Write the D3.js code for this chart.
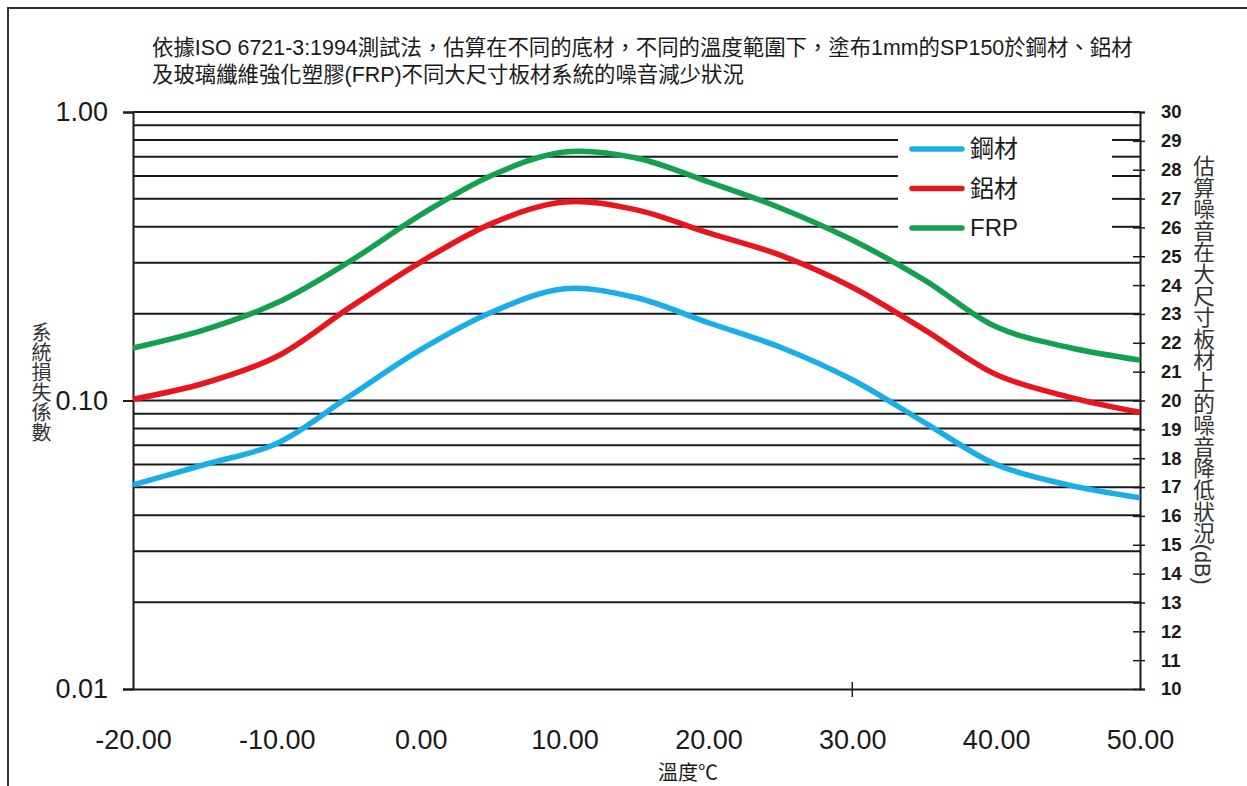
<!DOCTYPE html>
<html>
<head>
<meta charset="utf-8">
<script src="https://cdn.jsdelivr.net/npm/d3@7"></script>
<style>
  body { margin: 0; background: #fff; }
  svg { display: block; font-family: "Liberation Sans", Arial, "Noto Sans CJK TC", sans-serif; }
</style>
</head>
<body>
<svg id="chart" width="1247" height="786"></svg>
<script>
// temperature (°C) along the bottom
const temps = [-20, -15, -10, -5, 0, 5, 10, 15, 20, 25, 30, 35, 40, 45, 50]
// loss factor
const steel = [0.051, 0.060, 0.071, 0.103, 0.150, 0.203, 0.244, 0.227, 0.186, 0.153, 0.118, 0.084, 0.060, 0.051, 0.046]
const aluminum = [0.101, 0.115, 0.142, 0.209, 0.302, 0.412, 0.488, 0.458, 0.381, 0.319, 0.247, 0.176, 0.123, 0.103, 0.091]
const frp = [0.152, 0.176, 0.218, 0.302, 0.440, 0.605, 0.727, 0.693, 0.572, 0.465, 0.360, 0.262, 0.180, 0.153, 0.138]

const seriesNames = ['鋼材', '鋁材', 'FRP']
const xTicks = [-20, -10, 0, 10, 20, 30, 40, 50]
const leftTicks = [0.01, 0.1, 1]
const rightTicks = d3.range(10, 31)

const titleLines = [
  '依據ISO 6721-3:1994測試法，估算在不同的底材，不同的溫度範圍下，塗布1mm的SP150於鋼材、鋁材',
  '及玻璃纖維強化塑膠(FRP)不同大尺寸板材系統的噪音減少狀況'
]
const xTitle = '溫度℃'
const leftTitle = '系統損失係數'
const rightTitle = '估算噪音在大尺寸板材上的噪音降低狀況(dB)'

const colors = ['#1aaee6', '#e8161c', '#14a04c']
const ink = '#1a1a1a'
const numFont = '"Liberation Sans", Arial, sans-serif'

const svg = d3.select('#chart')
const plot = { left: 133, right: 1140, top: 112, bottom: 689 }
const legendGap = { from: 898, to: 1112 }

const xScale = d3.scaleLinear().domain([-20, 50]).range([plot.left, plot.right])
const yScale = d3.scaleLog().domain([0.01, 1]).range([plot.bottom, plot.top])
const dbScale = d3.scaleLinear().domain([10, 30]).range([plot.bottom, plot.top])

// plain hyphen minus like the original, not d3's unicode minus
const fixed2 = d => d.toFixed(2)

// outer frame (cropped on the right and bottom in the original)
svg.append('rect')
  .attr('x', 8).attr('y', 8)
  .attr('width', 1400).attr('height', 1000)
  .attr('fill', 'none').attr('stroke', '#333').attr('stroke-width', 2)

// title
svg.append('g').selectAll('text')
  .data(titleLines)
  .join('text')
  .attr('x', 152)
  .attr('y', (d, i) => 55 + i * 27)
  .attr('font-size', 21.4)
  .attr('fill', ink)
  .text(d => d)

// horizontal grid, broken where the legend sits
const gridValues = yScale.ticks().filter(v => v > 0.01)
const grid = svg.append('g').attr('stroke', ink).attr('stroke-width', 2)
gridValues.forEach(v => {
  const y = yScale(v)
  const underLegend = v >= 0.35 && v <= 0.85
  const segs = underLegend
    ? [[plot.left, legendGap.from], [legendGap.to, plot.right]]
    : [[plot.left, plot.right]]
  segs.forEach(s => {
    grid.append('line')
      .attr('x1', s[0]).attr('x2', s[1])
      .attr('y1', y).attr('y2', y)
  })
})

// left axis
const leftAxis = svg.append('g')
  .attr('transform', `translate(${plot.left},0)`)
  .call(d3.axisLeft(yScale).tickValues(leftTicks).tickFormat(fixed2).tickSize(10).tickPadding(15))
leftAxis.select('.domain').attr('stroke', ink).attr('stroke-width', 2)
leftAxis.selectAll('.tick line').attr('stroke', ink).attr('stroke-width', 2)
leftAxis.selectAll('.tick text')
  .attr('font-size', 27).attr('fill', ink)
  .attr('font-family', numFont)

// bottom axis
const bottomAxis = svg.append('g')
  .attr('transform', `translate(0,${plot.bottom})`)
  .call(d3.axisBottom(xScale).tickValues(xTicks).tickFormat(fixed2).tickSize(0).tickPadding(41))
bottomAxis.select('.domain').attr('stroke', ink).attr('stroke-width', 2)
bottomAxis.selectAll('.tick text')
  .attr('font-size', 27).attr('fill', ink)
  .attr('font-family', numFont)
// the original has a single stray tick on the x axis, at 30
svg.append('line')
  .attr('x1', xScale(30)).attr('x2', xScale(30))
  .attr('y1', plot.bottom - 7).attr('y2', plot.bottom + 8)
  .attr('stroke', ink).attr('stroke-width', 1.5)

// right axis in dB, ticks cross the line
const rightAxis = svg.append('g')
  .attr('transform', `translate(${plot.right},0)`)
  .call(d3.axisRight(dbScale).tickValues(rightTicks).tickFormat(d3.format('d')).tickSize(5).tickPadding(16))
rightAxis.select('.domain').attr('stroke', ink).attr('stroke-width', 2)
rightAxis.selectAll('.tick line').attr('x1', -7).attr('stroke', ink).attr('stroke-width', 1.5)
rightAxis.selectAll('.tick text')
  .attr('font-size', 18.5).attr('font-weight', 'bold').attr('fill', ink)
  .attr('font-family', numFont)

// axis titles
svg.append('text')
  .attr('x', 688).attr('y', 780)
  .attr('text-anchor', 'middle')
  .attr('font-size', 20).attr('fill', ink)
  .text(xTitle)

svg.append('text')
  .attr('x', 40).attr('y', 322)
  .attr('font-size', 20).attr('fill', '#333')
  .style('writing-mode', 'vertical-rl')
  .text(leftTitle)

svg.append('text')
  .attr('x', 1202).attr('y', 155)
  .attr('font-size', 21.6).attr('fill', '#333')
  .style('writing-mode', 'vertical-rl')
  .text(rightTitle)

// series lines
const line = d3.line()
  .x((d, i) => xScale(temps[i]))
  .y(d => yScale(d))
  .curve(d3.curveCatmullRom.alpha(0.5))

svg.append('g').selectAll('path')
  .data([steel, aluminum, frp])
  .join('path')
  .attr('d', line)
  .attr('fill', 'none')
  .attr('stroke', (d, i) => colors[i])
  .attr('stroke-width', 5.5)
  .attr('stroke-linecap', 'butt')

// legend
const legend = svg.append('g').attr('transform', 'translate(912,149)')
const item = legend.selectAll('g')
  .data(seriesNames)
  .join('g')
  .attr('transform', (d, i) => `translate(0,${i * 39.5})`)
item.append('line')
  .attr('x1', 0).attr('x2', 50)
  .attr('stroke', (d, i) => colors[i])
  .attr('stroke-width', 5.5)
  .attr('stroke-linecap', 'round')
item.append('text')
  .attr('x', 58).attr('y', 0)
  .attr('dy', '0.35em')
  .attr('font-size', 24).attr('fill', ink)
  .text(d => d)
</script>
</body>
</html>
